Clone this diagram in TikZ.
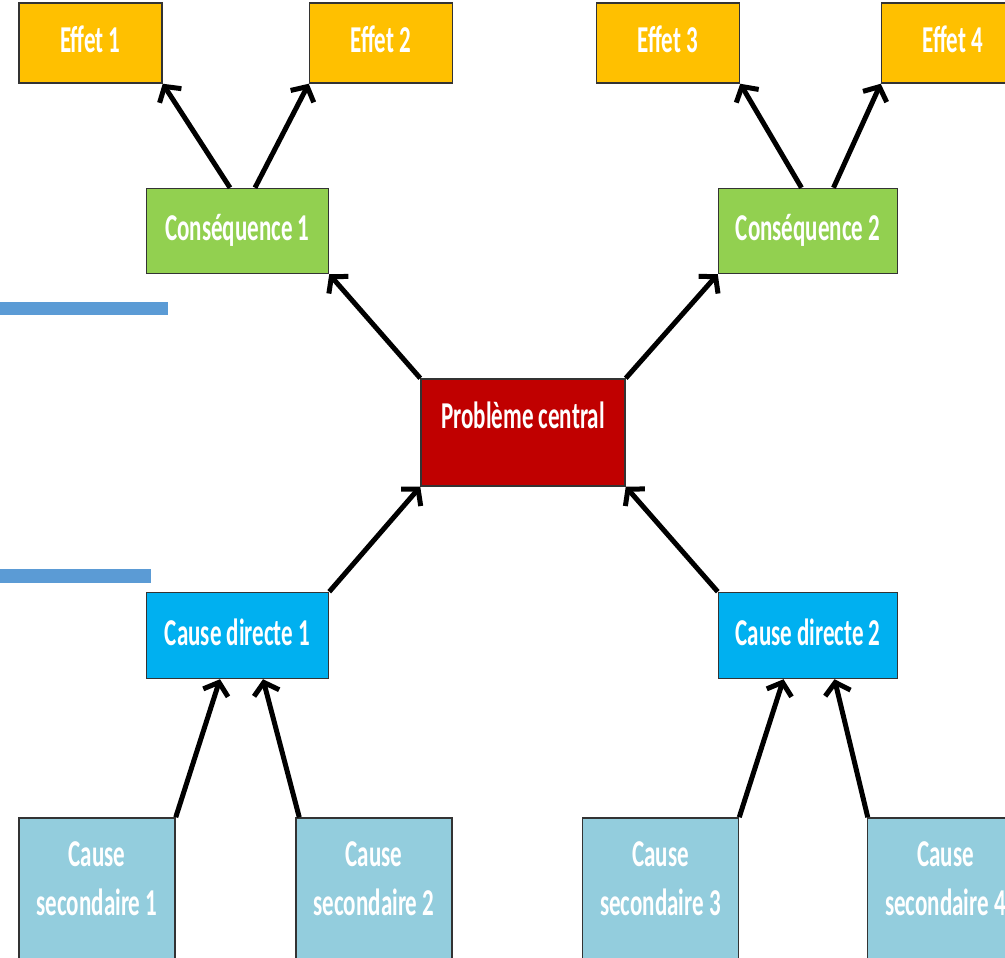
\documentclass[tikz,border=0pt]{standalone}
\usepackage{fontspec}
\setmainfont{Carlito}
\usepackage{graphicx}
\usetikzlibrary{positioning,arrows.meta}
\definecolor{effetc}{HTML}{FFC000}
\definecolor{consc}{HTML}{92D050}
\definecolor{probc}{HTML}{C00000}
\definecolor{causec}{HTML}{00B0F0}
\definecolor{secc}{HTML}{93CDDD}
\definecolor{barrec}{HTML}{5B9BD5}
\tikzset{%
  box/.style    = {draw=black!80, line width=1.5pt, rectangle, inner sep=0pt,
    text=white, font=\fontsize{23}{30}\selectfont\bfseries},
  effet/.style  = {box, fill=effetc, minimum width=143pt, minimum height=80pt}, % Effets
  cons/.style   = {box, fill=consc, minimum width=182pt, minimum height=85pt}, % Consequences
  prob/.style   = {box, fill=probc, minimum width=204pt, minimum height=107pt},
  cause/.style  = {box, fill=causec, minimum width=182pt, minimum height=86pt}, % Causes directes
  sec/.style    = {box, fill=secc, minimum width=156pt, minimum height=142pt}, % Causes secondaires
  fleche/.style = {line width=5pt, -{Straight Barb[length=11pt,width=26pt]}}
}
\newcommand{\tall}[2][0pt]{\raisebox{#1}[\height][\depth]{\scalebox{1}[1.65]{\begin{tabular}{@{}c@{}}#2\end{tabular}}}}

\begin{document}
\begin{tikzpicture}[x=1pt, y=1pt, node distance=104pt]
        \clip (0,0) rectangle (1005,958);
        \node [prob] (prob) at (523,525.5) {\tall[14pt]{Problème central}};
        \node [cons, above left=104pt and 91pt of prob] (cons1) {\tall{Conséquence 1}};
        \node [cons, above right=104pt and 92pt of prob, minimum width=179pt] (cons2) {\tall{Conséquence 2}};
        \node [cause, below left=105pt and 91pt of prob] (cause1) {\tall{Cause directe 1}};
        \node [cause, below right=105pt and 92pt of prob, minimum width=179pt] (cause2) {\tall{Cause directe 2}};
        \node [effet, above=of cons1, xshift=-147pt] (effet1) {\tall{Effet 1}};
        \node [effet, above=of cons1, xshift=143.5pt] (effet2) {\tall{Effet 2}};
        \node [effet, above=of cons2, xshift=-140pt] (effet3) {\tall{Effet 3}};
        \node [effet, above=of cons2, xshift=145pt] (effet4) {\tall{Effet 4}};
        \node [sec, below=138pt of cause1, xshift=-140.5pt] (sec1) {\tall[8pt]{Cause\\secondaire 1}};
        \node [sec, below=138pt of cause1, xshift=136.5pt] (sec2) {\tall[8pt]{Cause\\secondaire 2}};
        \node [sec, below=138pt of cause2, xshift=-147.5pt] (sec3) {\tall[8pt]{Cause\\secondaire 3}};
        \node [sec, below=138pt of cause2, xshift=137.5pt] (sec4) {\tall[8pt]{Cause\\secondaire 4}};
        % fleches
        \draw[fleche] ([xshift=-7.5pt]cons1.north) -- (effet1.south east);
        \draw[fleche] ([xshift=17.5pt]cons1.north) -- (effet2.south west);
        \draw[fleche] ([xshift=-6.5pt]cons2.north) -- (effet3.south east);
        \draw[fleche] ([xshift=25.5pt]cons2.north) -- (effet4.south west);
        \draw[fleche] (prob.north west) -- (cons1.south east);
        \draw[fleche] (prob.north east) -- (cons2.south west);
        \draw[fleche] (cause1.north east) -- (prob.south west);
        \draw[fleche] (cause2.north west) -- (prob.south east);
        \draw[fleche] (sec1.north east) -- ([xshift=-17.5pt]cause1.south);
        \draw[fleche] ([xshift=4pt]sec2.north west) -- ([xshift=25.5pt]cause1.south);
        \draw[fleche] (sec3.north east) -- ([xshift=-24.5pt]cause2.south);
        \draw[fleche] ([xshift=1pt]sec4.north west) -- ([xshift=26.5pt]cause2.south);
        % barres bleues
        \fill[barrec] (0,656) rectangle (168,643);
        \fill[barrec] (0,389) rectangle (151,375);
\end{tikzpicture}
\end{document}
